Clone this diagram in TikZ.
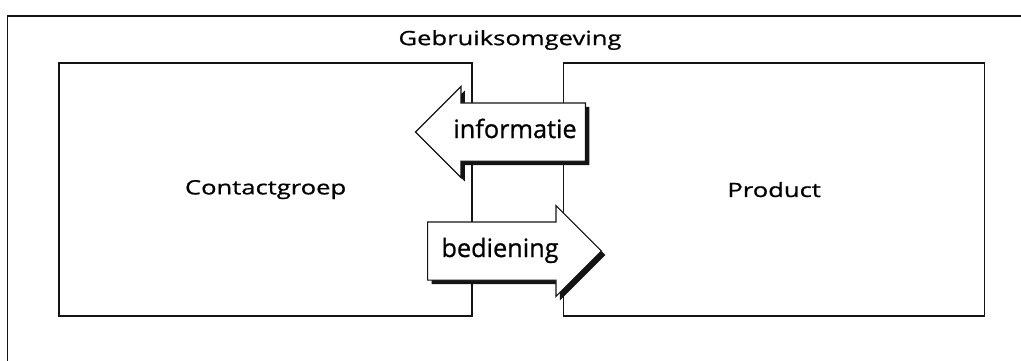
\documentclass[tikz,border=0pt]{standalone}
\usepackage{fontspec}
\setmainfont{Open Sans}[FakeBold=0.8]
\newfontfamily\widefont{Open Sans}[FakeStretch=1.3,FakeBold=0.8]
\usepackage{tikz}
\usetikzlibrary{positioning,shapes.arrows,shadows}
\definecolor{ink}{RGB}{20,20,20}
\tikzset{
  zone/.style={draw=ink,line width=1.1pt,minimum height=6.325cm,
    font=\widefont\fontsize{14}{16}\selectfont},
  flow/.style={single arrow,draw=ink,line width=0.8pt,fill=white,
    single arrow head extend=0.41cm,text height=0.45cm,text depth=0.15cm,
    inner ysep=0.4125cm,font=\fontsize{18}{20}\selectfont,
    drop shadow={shadow xshift=0.1cm,shadow yshift=-0.1cm,fill=ink,opacity=1}},
  lbl/.style={font=\widefont\fontsize{14}{16}\selectfont},
}
\begin{document}
\begin{tikzpicture}
  \clip (0,0) rectangle (25.525,-9);
  % environment frame, cut off at right and bottom
  \draw[ink,line width=1.1pt] (0.19,-9.5) |- (26,-0.4);
  \node[lbl] (env) at (12.75,-1.0) {Gebruiksomgeving};
  \node[zone,minimum width=10.325cm] (groep) at (6.64,-4.74) {Contactgroep};
  \node[zone,minimum width=10.525cm,right=2.25cm of groep] (prod) {Product};
  \node[flow,shape border rotate=180,inner xsep=0.2cm,minimum height=4.25cm]
    (info) at (12.875,-3.3) {informatie};
  \node[flow,inner xsep=0.33cm,minimum height=4.33cm] (bed)
    at (12.5,-6.275) {bediening};
\end{tikzpicture}
\end{document}
